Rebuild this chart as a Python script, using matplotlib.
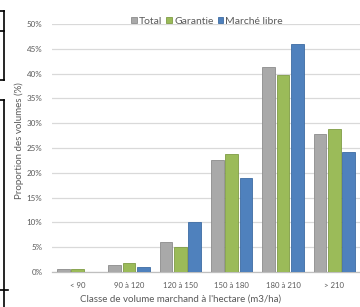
import matplotlib
matplotlib.use("Agg")
import matplotlib.pyplot as plt
from matplotlib.lines import Line2D
import numpy as np

# Data
classes = ["< 90", "90 à 120", "120 à 150", "150 à 180", "180 à 210", "> 210"]
total = [0.6, 1.5, 6.1, 22.6, 41.3, 27.8]
garantie = [0.6, 1.8, 5.0, 23.8, 39.8, 28.9]
marche_libre = [0.0, 1.0, 10.0, 18.9, 46.0, 24.2]
series_names = ["Total", "Garantie", "Marché libre"]
yticks = [0, 5, 10, 15, 20, 25, 30, 35, 40, 45, 50]

colors = ["#A9A9A9", "#9BBB59", "#4F81BD"]
edges = ["#8C8C8C", "#7F9C45", "#3D6CA3"]

plt.rcParams['font.family'] = ['Lato', 'DejaVu Sans']

fig = plt.figure(figsize=(3.6, 3.07), dpi=100)
ax = fig.add_axes([52/360, 35/307, 308/360, 248/307])

x = np.arange(len(classes))
w = 0.245
step = 0.28
for i, vals in enumerate([total, garantie, marche_libre]):
    ax.bar(x + (i - 1) * step, vals, width=w, color=colors[i],
           edgecolor=edges[i], linewidth=0.6, label=series_names[i], zorder=3)

ax.set_xlim(-0.5, len(classes) - 0.5)
ax.set_ylim(0, 50)
ax.set_yticks(yticks)
ax.set_yticklabels(["%d%%" % v for v in yticks])
ax.set_xticks(x)
ax.set_xticklabels(classes)
ax.tick_params(axis='x', length=0, labelsize=5.6, colors="#595959", pad=7)
ax.tick_params(axis='y', length=0, labelsize=5.8, colors="#595959", pad=7)
ax.yaxis.grid(True, color="#D9D9D9", linewidth=0.9, zorder=0)
for s in ["top", "right", "left"]:
    ax.spines[s].set_visible(False)
ax.spines["bottom"].set_color("#BFBFBF")
ax.spines["bottom"].set_linewidth(0.9)

ax.set_ylabel("Proportion des volumes (%)", fontsize=7, color="#595959")
ax.yaxis.set_label_coords(-0.092, 0.53)
ax.set_xlabel("Classe de volume marchand à l'hectare (m3/ha)", fontsize=7,
              color="#595959")
ax.xaxis.set_label_coords(0.419, -0.092)

ax.legend(loc="center", bbox_to_anchor=(0.503, 1.0 + 3/248), ncol=3, frameon=False,
          fontsize=7.5, handlelength=0.55, handleheight=0.55, handletextpad=0.2,
          columnspacing=0.4, labelcolor="#595959")

# black border fragments at the left edge of the crop
def seg(x0, y0, x1, y1):
    fig.add_artist(Line2D([x0/360, x1/360], [1 - y0/307, 1 - y1/307],
                          color="black", linewidth=1.2, transform=fig.transFigure))

seg(4, 11, 4, 80)
seg(0, 11, 4, 11)
seg(0, 31, 4, 31)
seg(0, 80, 4, 80)
seg(4, 100, 4, 307)
seg(0, 100, 4, 100)
seg(0, 290, 8, 290)

fig.savefig("out.png", dpi=100)
